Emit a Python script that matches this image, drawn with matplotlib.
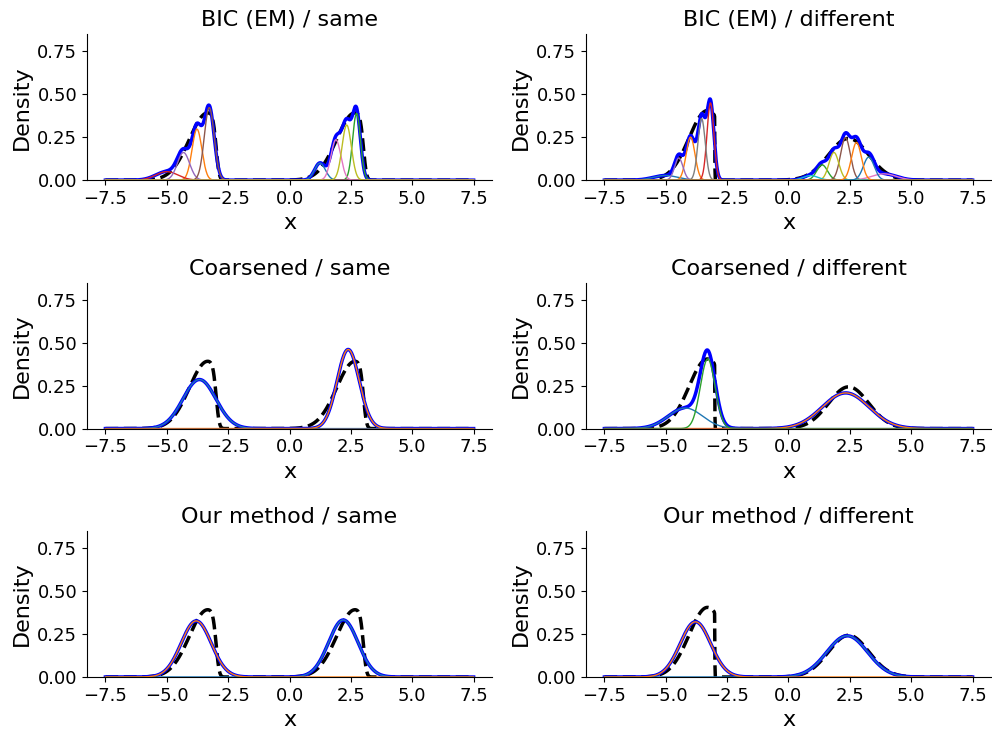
import math
import numpy as np
import matplotlib
matplotlib.use("Agg")
import matplotlib.pyplot as plt

grid = np.linspace(-7.5, 7.5, 1000)

# True generating densities, one tuple per cluster:
# (weight, mean, sd, upper cut, softness of the cut); cut None -> plain normal
truth_same = [(0.5, -3.33, 0.75, -2.98, 0.10),
              (0.5, 2.67, 0.75, 3.02, 0.10)]
truth_diff = [(0.5, -3.30, 0.75, -3.00, 0.005),
              (0.5, 2.45, 0.82, None, None)]

# Fitted mixtures, components listed in colour-cycle order
bic_same_w = [0.055, 0.149, 0.156, 0.056, 0.101, 0.212, 0.118, 0.0, 0.153]
bic_same_m = [1.24, -3.77, 2.73, -5.00, -4.32, -3.27, 1.89, 0.0, 2.33]
bic_same_s = [0.22, 0.20, 0.16, 0.45, 0.25, 0.20, 0.20, 1.0, 0.19]

bic_diff_w = [0.034, 0.113, 0.049, 0.158, 0.055, 0.124, 0.046, 0.135, 0.081, 0.020, 0.074, 0.110]
bic_diff_m = [-5.01, -3.99, 1.37, -3.18, -4.47, 2.32, 3.89, -3.54, 1.85, 0.90, 3.27, 2.77]
bic_diff_s = [0.50, 0.18, 0.22, 0.14, 0.17, 0.20, 0.50, 0.15, 0.20, 0.30, 0.22, 0.20]

coarse_same_w = [0.48, 0.52, 0.0, 0.0, 0.0, 0.0]
coarse_same_m = [-3.67, 2.39, 0.0, 0.0, 0.0, 0.0]
coarse_same_s = [0.67, 0.45, 1.0, 1.0, 1.0, 1.0]

coarse_diff_w = [0.21, 0.495, 0.305, 0.0, 0.0, 0.0]
coarse_diff_m = [-4.20, 2.33, -3.29, 0.0, 0.0, 0.0]
coarse_diff_s = [0.70, 0.95, 0.30, 1.0, 1.0, 1.0]

ours_same_w = [0.5, 0.5]
ours_same_m = [2.19, -3.80]
ours_same_s = [0.60, 0.61]

ours_diff_w = [0.5, 0.5]
ours_diff_m = [2.39, -3.79]
ours_diff_s = [0.83, 0.62]

methods = ["BIC (EM)", "Coarsened", "Our method"]
scenarios = ["same", "different"]

_erf = np.vectorize(math.erf)


def norm_pdf(x, m, s):
    return np.exp(-0.5 * ((x - m) / s) ** 2) / (s * math.sqrt(2 * math.pi))


def norm_cdf(z):
    return 0.5 * (1.0 + _erf(z / math.sqrt(2.0)))


def truth_density(x, clusters):
    out = np.zeros_like(x)
    for w, m, s, cut, soft in clusters:
        if cut is None:
            out += w * norm_pdf(x, m, s)
        else:
            z = float(norm_cdf((cut - m) / math.sqrt(s ** 2 + soft ** 2)))
            out += w * norm_pdf(x, m, s) * norm_cdf((cut - x) / soft) / z
    return out


fits = {
    ("BIC (EM)", "same"): (bic_same_w, bic_same_m, bic_same_s),
    ("BIC (EM)", "different"): (bic_diff_w, bic_diff_m, bic_diff_s),
    ("Coarsened", "same"): (coarse_same_w, coarse_same_m, coarse_same_s),
    ("Coarsened", "different"): (coarse_diff_w, coarse_diff_m, coarse_diff_s),
    ("Our method", "same"): (ours_same_w, ours_same_m, ours_same_s),
    ("Our method", "different"): (ours_diff_w, ours_diff_m, ours_diff_s),
}
truths = {"same": truth_same, "different": truth_diff}

fig, axes = plt.subplots(3, 2, figsize=(9.92, 7.29), dpi=100)
fig.subplots_adjust(left=0.0877, right=0.999, bottom=0.0713, top=0.953,
                    wspace=0.232, hspace=0.703)

for i, method in enumerate(methods):
    for j, scen in enumerate(scenarios):
        ax = axes[i, j]
        w, m, s = fits[(method, scen)]
        comps = [wk * norm_pdf(grid, mk, sk) for wk, mk, sk in zip(w, m, s)]
        ax.plot(grid, truth_density(grid, truths[scen]), "k--", lw=2.5)
        ax.plot(grid, np.sum(comps, axis=0), color="blue", lw=2.5)
        for comp in comps:
            ax.plot(grid, comp, lw=1)
        ax.set_ylim(0, 0.85)
        ax.set_yticks([0.0, 0.25, 0.5, 0.75])
        ax.set_title(f"{method} / {scen}", fontsize=16)
        ax.set_xlabel("x", fontsize=16)
        ax.set_ylabel("Density", fontsize=16)
        ax.tick_params(labelsize=13)
        ax.spines["top"].set_visible(False)
        ax.spines["right"].set_visible(False)

fig.savefig("out.png", dpi=100)
